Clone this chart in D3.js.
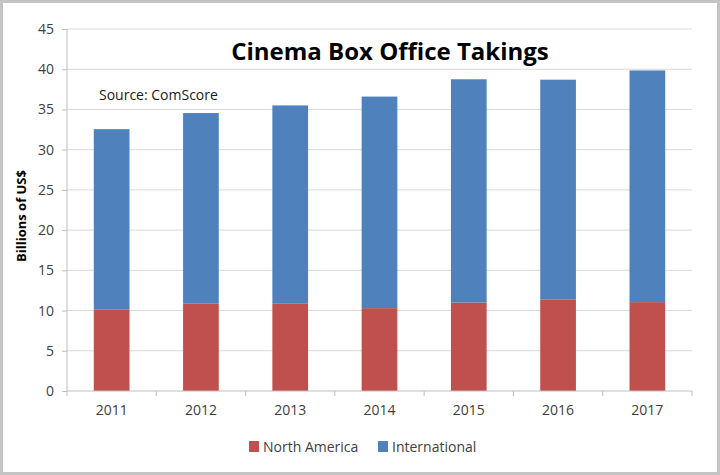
<!DOCTYPE html>
<html>
  <head>
    <meta charset="UTF-8" />
    <title>Cinema Box Office Takings</title>
    <script src="https://d3js.org/d3.v7.min.js"></script>
    <style>
      body { margin: 0; background: #fff; }
      svg text { font-family: "Open Sans", "Liberation Sans", Arial, sans-serif; }
    </style>
  </head>
  <body>
    <div id="chart"></div>
    <script>
      // data (billions of US$)
      const years = ["2011", "2012", "2013", "2014", "2015", "2016", "2017"];
      const northAmerica = [10.1, 10.85, 10.9, 10.3, 11.0, 11.35, 11.05];
      const international = [22.45, 23.7, 24.6, 26.3, 27.75, 27.35, 28.8];
      const seriesNames = ["North America", "International"];
      const seriesColors = ["#c0504d", "#4f81bd"];
      const yTicks = [0, 5, 10, 15, 20, 25, 30, 35, 40, 45];

      const W = 720, H = 475;
      const margin = { top: 29, right: 28, bottom: 84, left: 67 };
      const innerW = W - margin.left - margin.right;
      const innerH = H - margin.top - margin.bottom;

      const svg = d3.select("#chart").append("svg")
        .attr("width", W).attr("height", H);

      // grey frame round the picture
      svg.append("rect")
        .attr("x", 1.5).attr("y", 1.5)
        .attr("width", W - 3).attr("height", H - 3)
        .attr("fill", "#fff").attr("stroke", "#c4c4c4").attr("stroke-width", 3);

      const g = svg.append("g")
        .attr("transform", `translate(${margin.left},${margin.top})`);

      const x = d3.scaleBand().domain(years).range([0, innerW]).paddingInner(0.6).paddingOuter(0.3);
      const y = d3.scaleLinear().domain([0, 45]).range([innerH, 0]);

      // gridlines
      g.selectAll(".grid").data(yTicks.slice(1)).enter().append("line")
        .attr("x1", 0).attr("x2", innerW)
        .attr("y1", (d) => y(d)).attr("y2", (d) => y(d))
        .attr("stroke", "#d9d9d9").attr("stroke-width", 1);

      // stacked bars
      const rows = years.map((yr, i) => ({ year: yr, "North America": northAmerica[i], International: international[i] }));
      const stacked = d3.stack().keys(seriesNames)(rows);

      g.selectAll(".series").data(stacked).enter().append("g")
        .attr("fill", (d, i) => seriesColors[i])
        .selectAll("rect").data((d) => d).enter().append("rect")
        .attr("x", (d) => x(d.data.year))
        .attr("width", x.bandwidth())
        .attr("y", (d) => y(d[1]))
        .attr("height", (d) => y(d[0]) - y(d[1]));

      // y axis
      const yAxis = g.append("g")
        .call(d3.axisLeft(y).tickValues(yTicks).tickSize(5).tickPadding(8));
      yAxis.select(".domain").attr("stroke", "#bfbfbf").attr("d", `M0,0V${innerH}`);
      yAxis.selectAll(".tick line").attr("stroke", "#bfbfbf");
      yAxis.selectAll("text").attr("fill", "#404040").style("font-size", "14px");

      // x axis, ticks sit between categories
      const xAxis = g.append("g").attr("transform", `translate(0,${innerH})`)
        .call(d3.axisBottom(x).tickSize(0).tickPadding(14));
      xAxis.select(".domain").attr("stroke", "#bfbfbf").attr("d", `M0,0H${innerW}`);
      xAxis.selectAll("text").attr("fill", "#404040").style("font-size", "14px");
      const step = x.step();
      g.selectAll(".xtick").data(d3.range(years.length + 1)).enter().append("line")
        .attr("x1", (d) => d * step).attr("x2", (d) => d * step)
        .attr("y1", innerH).attr("y2", innerH + 5)
        .attr("stroke", "#bfbfbf");

      // y title
      svg.append("text")
        .attr("transform", `translate(26,216) rotate(-90)`)
        .attr("text-anchor", "middle")
        .style("font-size", "13px").style("font-weight", "bold")
        .attr("fill", "#000")
        .text("Billions of US$");

      // title and source
      svg.append("text")
        .attr("x", 390).attr("y", 60)
        .attr("text-anchor", "middle")
        .style("font-size", "24px").style("font-weight", "bold")
        .attr("fill", "#000")
        .text("Cinema Box Office Takings");

      svg.append("text")
        .attr("x", 99).attr("y", 100)
        .style("font-size", "14px")
        .attr("fill", "#1a1a1a")
        .text("Source: ComScore");

      // legend
      const legendX = [249, 378];
      const legend = svg.selectAll(".legend").data(seriesNames).enter().append("g")
        .attr("transform", (d, i) => `translate(${legendX[i]},441)`);
      legend.append("rect").attr("width", 10).attr("height", 11)
        .attr("fill", (d, i) => seriesColors[i]);
      legend.append("text").attr("x", 14).attr("y", 11)
        .style("font-size", "14px").attr("fill", "#404040")
        .text((d) => d);
    </script>
  </body>
</html>
